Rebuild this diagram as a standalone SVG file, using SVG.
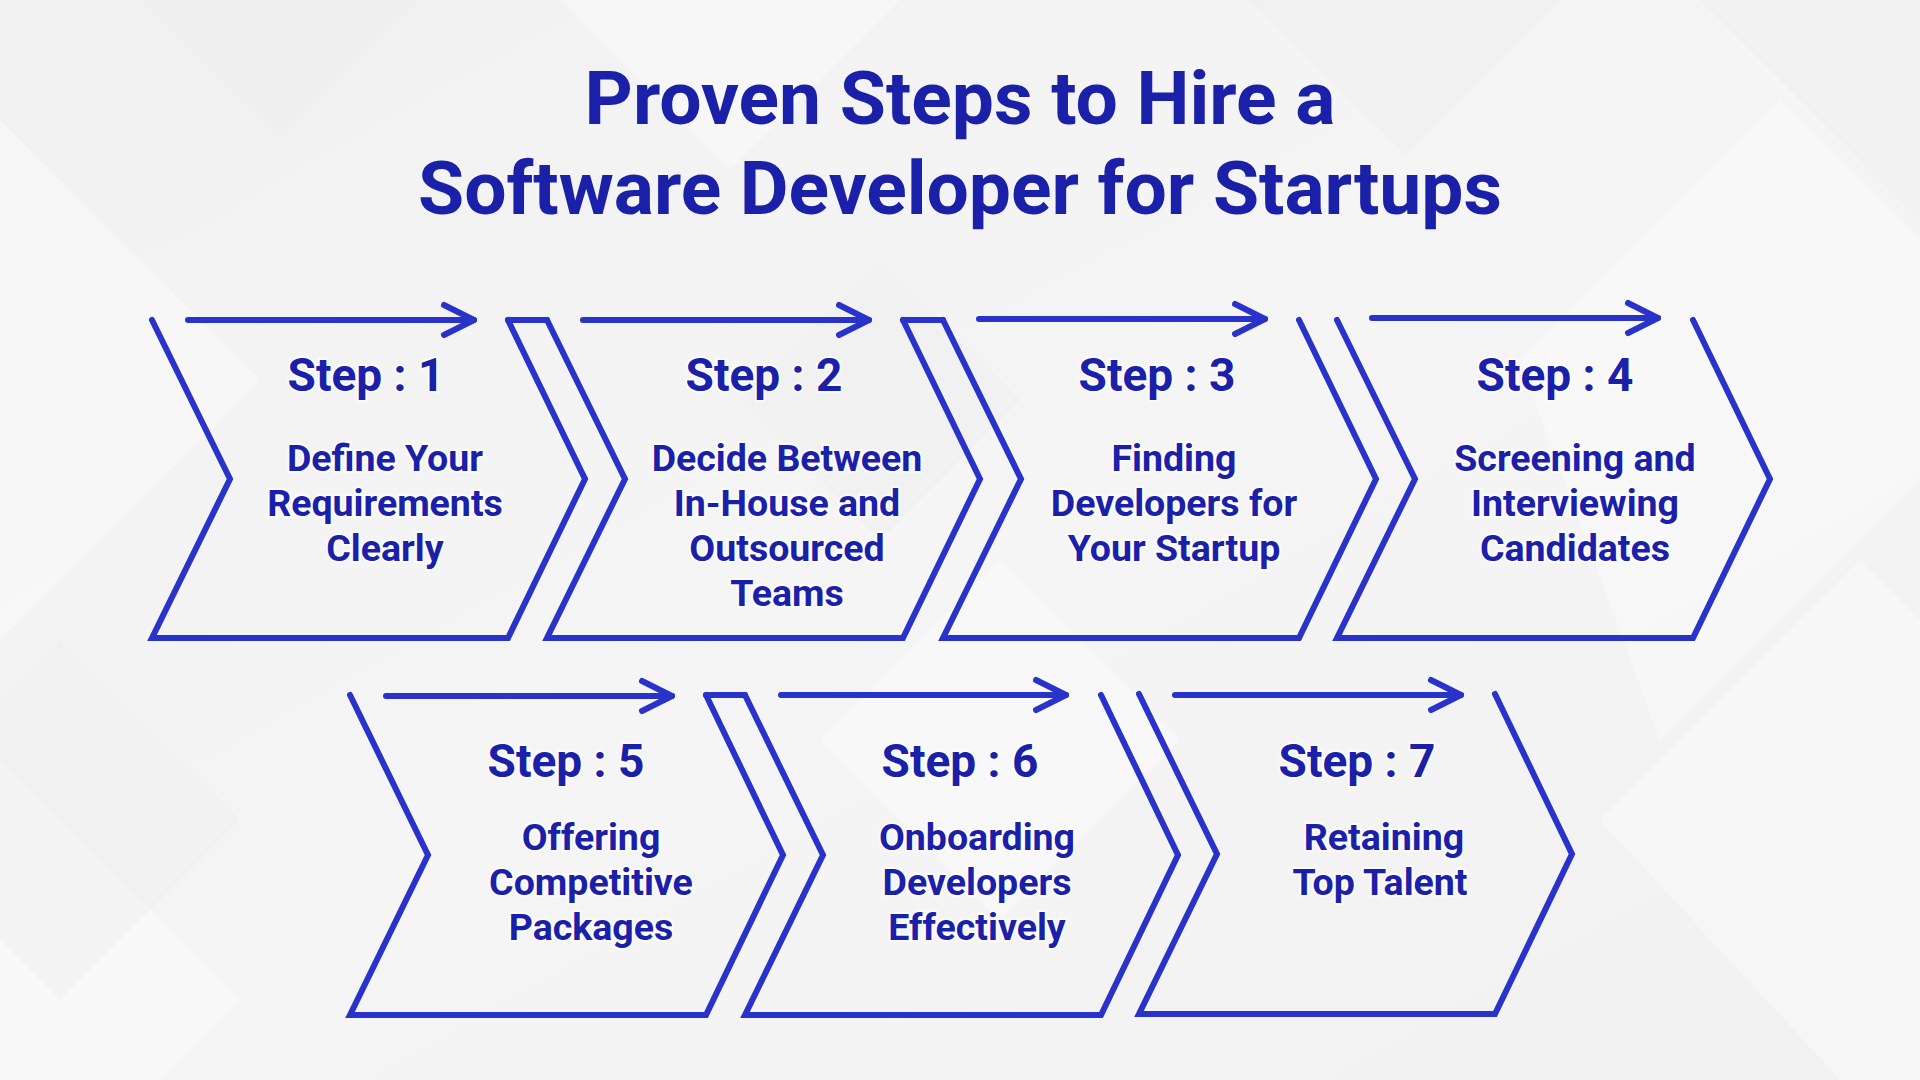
<svg xmlns="http://www.w3.org/2000/svg" width="1920" height="1080" viewBox="0 0 1920 1080">
  <defs>
    <linearGradient id="bg" x1="0" y1="0" x2="1" y2="1">
      <stop offset="0" stop-color="#f1f1f2"/>
      <stop offset="0.5" stop-color="#f5f5f6"/>
      <stop offset="1" stop-color="#f1f1f2"/>
    </linearGradient>
    <marker id="ah" markerUnits="userSpaceOnUse" viewBox="0 0 44 44" markerWidth="44" markerHeight="44" refX="38" refY="22" orient="auto" overflow="visible">
      <path d="M8,7 L38,22 L8,37" fill="none" stroke="#2a33c9" stroke-width="6" stroke-linecap="round" stroke-linejoin="round"/>
    </marker>
  </defs>
  <style>
    .chev { fill: none; stroke: #2a33c9; stroke-width: 6; stroke-linejoin: miter; stroke-linecap: round; }
    .arrow { fill: none; stroke: #2a33c9; stroke-width: 6; stroke-linecap: round; marker-end: url(#ah); }
    .cap { fill: none; stroke: #2a33c9; stroke-width: 6; stroke-linecap: round; }
    .title { font-family: Roboto, "Liberation Sans", sans-serif; font-weight: 700; font-size: 75px; fill: #1a20a8; text-anchor: middle; }
    .step { font-family: Roboto, "Liberation Sans", sans-serif; font-weight: 700; font-size: 46px; fill: #1a20a8; text-anchor: middle; stroke: #ffffff; stroke-width: 4; stroke-opacity: 0.7; paint-order: stroke; }
    .desc { font-family: Roboto, "Liberation Sans", sans-serif; font-weight: 700; font-size: 37.5px; fill: #1a20a8; text-anchor: middle; stroke: #ffffff; stroke-width: 4; stroke-opacity: 0.7; paint-order: stroke; }
    .bgl { fill: #ffffff; opacity: 0.35; }
    .bgd { fill: #e6e6e8; opacity: 0.25; }
  </style>

  <!-- background -->
  <rect width="1920" height="1080" fill="url(#bg)"/>
  <g id="background">
    <polygon class="bgl" points="0,120 260,380 0,640"/>
    <polygon class="bgd" points="140,0 420,0 280,140"/>
    <polygon class="bgl" points="560,0 900,0 730,170"/>
    <polygon class="bgd" points="1250,0 1560,0 1405,155"/>
    <polygon class="bgl" points="1520,360 1780,100 1920,240 1920,480 1660,740"/>
    <polygon class="bgd" points="1700,0 1920,0 1920,220"/>
    <polygon class="bgl" points="0,760 240,1000 160,1080 0,1080"/>
    <polygon class="bgd" points="60,640 240,820 60,1000 -120,820"/>
    <polygon class="bgl" points="1600,820 1860,560 1920,620 1920,1080 1840,1080"/>
    <polygon class="bgd" points="880,260 1020,400 880,540 740,400"/>
    <polygon class="bgl" points="1000,560 1180,740 1000,920 820,740"/>
  </g>

  <!-- title -->
  <g id="title">
    <text class="title" x="960" y="124">Proven Steps to Hire a</text>
    <text class="title" x="960" y="214">Software Developer for Startups</text>
  </g>

  <!-- connectors: caps joining adjacent chevrons -->
  <g id="connectors">
    <line class="cap" x1="508" y1="320" x2="547" y2="320"/>
    <line class="cap" x1="903" y1="320" x2="943" y2="320"/>
    <line class="cap" x1="706" y1="695" x2="745" y2="695"/>
  </g>

  <!-- Step 1 -->
  <g id="step1">
    <path class="chev" d="M152,320 L230,479 L152,638 L508,638 L585,479 L508,320"/>
    <line class="arrow" x1="188" y1="320" x2="474" y2="320"/>
    <text class="step" x="366" y="391">Step : 1</text>
    <text class="desc" x="385" y="471">Define Your</text>
    <text class="desc" x="385" y="516">Requirements</text>
    <text class="desc" x="385" y="561">Clearly</text>
  </g>

  <!-- Step 2 -->
  <g id="step2">
    <path class="chev" d="M547,320 L625,479 L547,638 L903,638 L980,479 L903,320"/>
    <line class="arrow" x1="583" y1="320" x2="869" y2="320"/>
    <text class="step" x="764" y="391">Step : 2</text>
    <text class="desc" x="787" y="471">Decide Between</text>
    <text class="desc" x="787" y="516">In-House and</text>
    <text class="desc" x="787" y="561">Outsourced</text>
    <text class="desc" x="787" y="606">Teams</text>
  </g>

  <!-- Step 3 -->
  <g id="step3">
    <path class="chev" d="M943,320 L1021,479 L943,638 L1299,638 L1376,479 L1299,320"/>
    <line class="arrow" x1="979" y1="319" x2="1265" y2="319"/>
    <text class="step" x="1157" y="391">Step : 3</text>
    <text class="desc" x="1174" y="471">Finding</text>
    <text class="desc" x="1174" y="516">Developers for</text>
    <text class="desc" x="1174" y="561">Your Startup</text>
  </g>

  <!-- Step 4 -->
  <g id="step4">
    <path class="chev" d="M1337,320 L1415,479 L1337,638 L1693,638 L1770,479 L1693,320"/>
    <line class="arrow" x1="1372" y1="318" x2="1658" y2="318"/>
    <text class="step" x="1555" y="391">Step : 4</text>
    <text class="desc" x="1575" y="471">Screening and</text>
    <text class="desc" x="1575" y="516">Interviewing</text>
    <text class="desc" x="1575" y="561">Candidates</text>
  </g>

  <!-- Step 5 -->
  <g id="step5">
    <path class="chev" d="M350,695 L428,855 L350,1015 L706,1015 L783,855 L706,695"/>
    <line class="arrow" x1="386" y1="696" x2="672" y2="696"/>
    <text class="step" x="566" y="777">Step : 5</text>
    <text class="desc" x="591" y="850">Offering</text>
    <text class="desc" x="591" y="895">Competitive</text>
    <text class="desc" x="591" y="940">Packages</text>
  </g>

  <!-- Step 6 -->
  <g id="step6">
    <path class="chev" d="M745,695 L823,855 L745,1015 L1101,1015 L1178,855 L1101,695"/>
    <line class="arrow" x1="781" y1="695" x2="1066" y2="695"/>
    <text class="step" x="960" y="777">Step : 6</text>
    <text class="desc" x="977" y="850">Onboarding</text>
    <text class="desc" x="977" y="895">Developers</text>
    <text class="desc" x="977" y="940">Effectively</text>
  </g>

  <!-- Step 7 -->
  <g id="step7">
    <path class="chev" d="M1139,694 L1217,854 L1139,1014 L1495,1014 L1572,854 L1495,694"/>
    <line class="arrow" x1="1175" y1="695" x2="1461" y2="695"/>
    <text class="step" x="1357" y="777">Step : 7</text>
    <text class="desc" x="1384" y="850">Retaining</text>
    <text class="desc" x="1380" y="895">Top Talent</text>
  </g>
</svg>
